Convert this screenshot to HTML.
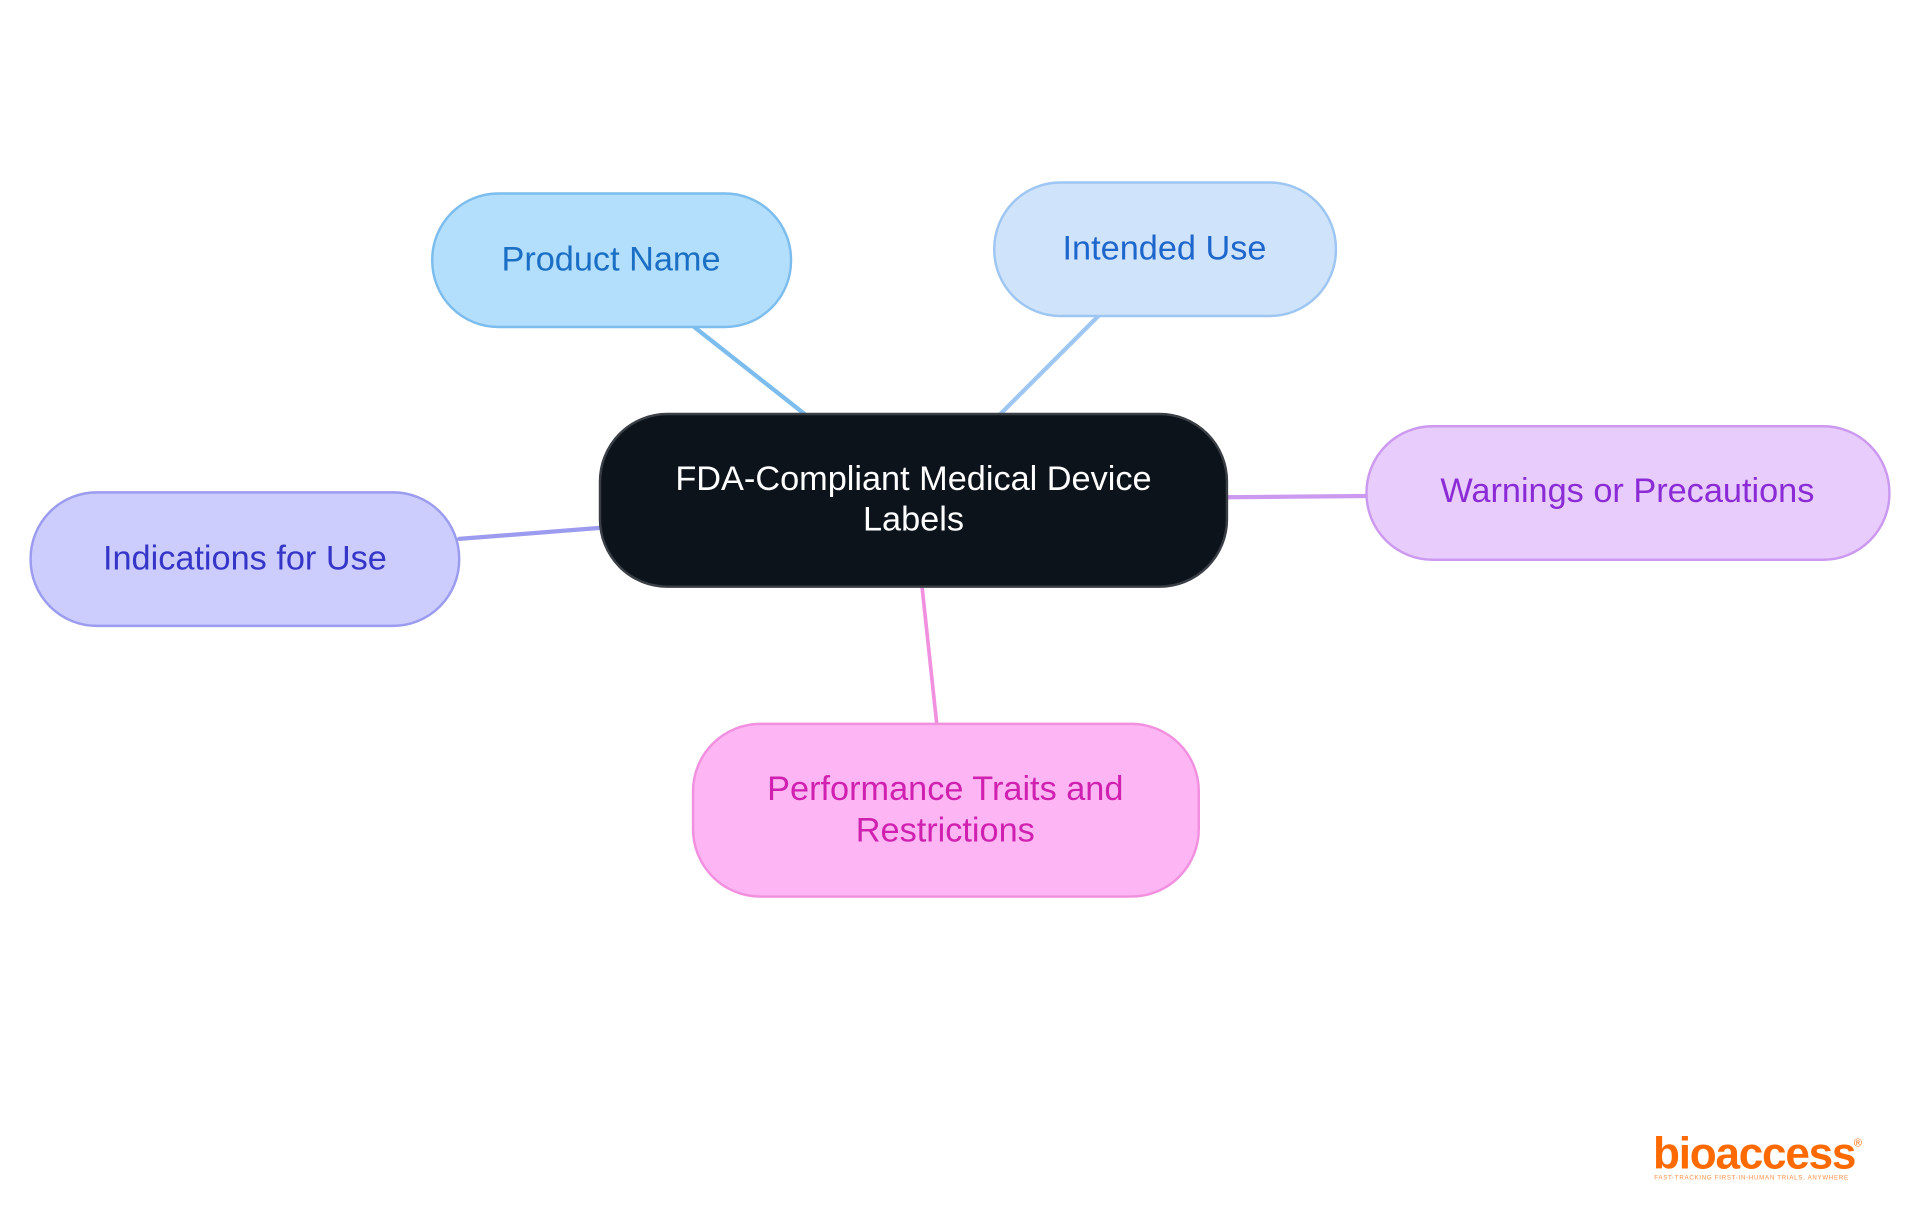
<!DOCTYPE html>
<html><head><meta charset="utf-8"><style>html,body{margin:0;padding:0;background:#fff}svg{display:block}</style></head>
<body>
<svg width="1920" height="1215" viewBox="0 0 1568 992" preserveAspectRatio="none" xmlns="http://www.w3.org/2000/svg" font-family="Liberation Sans, sans-serif">
<rect width="1568" height="992" fill="#fff"/>
<g stroke-linecap="round">
<line x1="567" y1="267" x2="657" y2="338" stroke="#7cbdee" stroke-width="3.5"/>
<line x1="897" y1="258" x2="817" y2="338" stroke="#9ec6f2" stroke-width="3.5"/>
<line x1="1002" y1="406" x2="1116" y2="405" stroke="#cc99f0" stroke-width="3.5"/>
<line x1="375" y1="440" x2="490" y2="431" stroke="#9b9bf0" stroke-width="3.5"/>
<line x1="753" y1="479" x2="765" y2="591" stroke="#f290e0" stroke-width="3"/>
</g>
<rect x="353" y="158" width="293" height="109" rx="54" fill="#b3dffd" stroke="#7cbdee" stroke-width="2"/>
<text x="499" y="221" text-anchor="middle" font-size="28" fill="#1a6fc4">Product Name</text>
<rect x="812" y="149" width="279" height="109" rx="54" fill="#cfe3fb" stroke="#9ec6f2" stroke-width="2"/>
<text x="951" y="212" text-anchor="middle" font-size="28" fill="#1d66cc">Intended Use</text>
<rect x="490" y="338" width="512" height="141" rx="55" fill="#0d131b" stroke="#3a3f46" stroke-width="2"/>
<text x="746" y="400" text-anchor="middle" font-size="28" fill="#fff">FDA-Compliant Medical Device</text>
<text x="746" y="433" text-anchor="middle" font-size="28" fill="#fff">Labels</text>
<rect x="1116" y="348" width="427" height="109" rx="54" fill="#e8ccfb" stroke="#cc99f0" stroke-width="2"/>
<text x="1329" y="410" text-anchor="middle" font-size="28" fill="#8a2bd6">Warnings or Precautions</text>
<rect x="25" y="402" width="350" height="109" rx="54" fill="#ccccfd" stroke="#9b9bf0" stroke-width="2"/>
<text x="200" y="465" text-anchor="middle" font-size="28" fill="#3535c8">Indications for Use</text>
<rect x="566" y="591" width="413" height="141" rx="55" fill="#fdb6f3" stroke="#f290e0" stroke-width="2"/>
<text x="772" y="653" text-anchor="middle" font-size="28" fill="#d020b0">Performance Traits and</text>
<text x="772" y="687" text-anchor="middle" font-size="28" fill="#d020b0">Restrictions</text>
<text x="1350" y="954" font-size="36" font-weight="bold" fill="#ff6a00" letter-spacing="-1">bioaccess</text>
<text x="1514" y="936" font-size="9" fill="#ff6a00">®</text>
<text x="1351" y="963" font-size="5" fill="#ff8c40" letter-spacing="0.6">FAST-TRACKING FIRST-IN-HUMAN TRIALS, ANYWHERE</text>
</svg>
</body></html>
